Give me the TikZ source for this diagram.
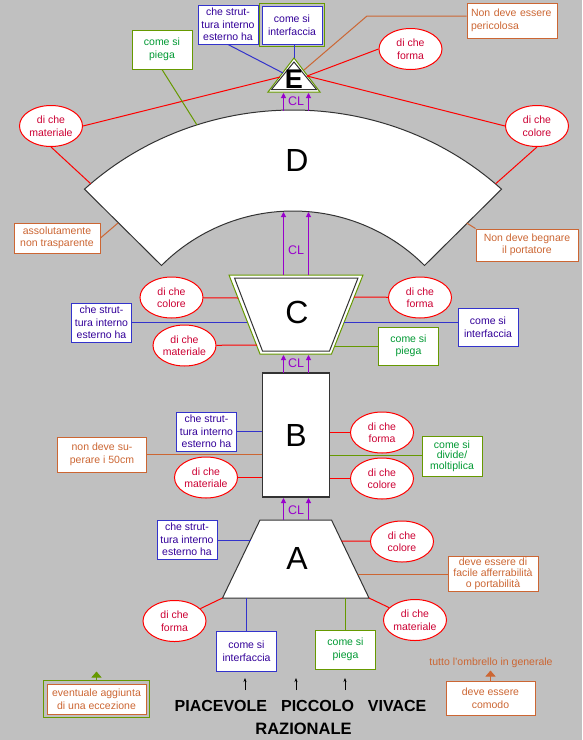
\documentclass[tikz,border=0pt]{standalone}
\usepackage{fontspec}
\setmainfont{Liberation Sans}
\usetikzlibrary{arrows.meta,shapes.geometric,calc}
\definecolor{bgc}{HTML}{C0C0C0}
\definecolor{redc}{HTML}{FF0000}
\definecolor{redt}{HTML}{CC0033}
\definecolor{bluec}{HTML}{3333CC}
\definecolor{bluet}{HTML}{330099}
\definecolor{grnc}{HTML}{669900}
\definecolor{grnt}{HTML}{009933}
\definecolor{orc}{HTML}{CC6633}
\definecolor{clc}{HTML}{9900CC}
\definecolor{shp}{HTML}{333333}
\newcommand{\fs}{\fontsize{10.5}{12.5}\selectfont}
\tikzset{
  el/.style={ellipse,draw=redc,fill=white,text=redt,line width=1pt,minimum width=63pt,minimum height=41pt,inner sep=0pt,align=center,font=\fs},
  bb/.style={rectangle,draw=bluec,fill=white,text=bluet,line width=1pt,minimum width=60pt,minimum height=39pt,inner sep=0pt,align=center,font=\fs},
  gb/.style={bb,draw=grnc,text=grnt},
  ob/.style={bb,draw=orc,text=orc,minimum width=89pt,minimum height=35pt},
  rl/.style={redc,line width=1pt},
  bl/.style={bluec,line width=1pt},
  gl/.style={grnc,line width=1pt},
  ol/.style={orc,line width=1pt},
  cl/.style={-{Triangle[length=5pt,width=5pt]},clc,line width=1pt},
  ba/.style={-{Stealth[length=4pt,width=3pt]},black,line width=0.8pt},
  mk/.style={-{Triangle[length=6pt,width=10pt]},line width=1pt},
  big/.style={font=\fontsize{32}{32}\selectfont,inner sep=0pt}
}
\begin{document}
\begin{tikzpicture}[x=1pt,y=-1pt]
\useasboundingbox (0,0) rectangle (582,740); \fill[bgc] (0,0) rectangle (582,740);
\filldraw[fill=white,draw=shp,line width=1pt] plot[domain=226.4:313.6,samples=60] ({293+302.4*cos(\x)},{397+287*sin(\x)}) -- plot[domain=315:225,samples=60] ({293+186*cos(\x)},{397+186*sin(\x)}) -- cycle;
\node[big] (D) at (297,160) {D};
\filldraw[fill=white,draw=grnc,line width=1pt] (229,275) -- (363,275) -- (331.5,354) -- (260,354) -- cycle;
\draw[shp,line width=1pt] (234.5,278) -- (358,278) -- (329.5,351) -- (262.5,351) -- cycle;
\node[big] (C) at (297,312) {C};
\node[big,draw=shp,line width=1.2pt,fill=white,minimum width=67pt,minimum height=124pt] (B) at (296,435) {B};
\filldraw[fill=white,draw=shp,line width=1pt] (260,520) -- (331.5,520) -- (369,598) -- (222.5,598) -- cycle;
\node[big] (A) at (297,558) {A};
\filldraw[fill=white,draw=grnc,line width=1pt] (294,58) -- (320,92) -- (268,92) -- cycle;
\draw[shp,line width=1pt] (294,62) -- (316.5,89.5) -- (271.5,89.5) -- cycle;
\node[font=\fontsize{27}{27}\selectfont\bfseries,inner sep=0pt] (E) at (294,79) {E};

\coordinate (eT) at (294,58); \coordinate (eB) at (283,73); \coordinate (eO) at (304,70); \coordinate (eL) at (280,77); \coordinate (eR) at (307,76);
\coordinate (pk) at (367,16);
\coordinate (dL) at (90.7,183.7); \coordinate (dR) at (495.7,183.7); \coordinate (dP) at (197,125); \coordinate (dA) at (118,223); \coordinate (dN) at (466.7,223);
\coordinate (c1) at (238,298); \coordinate (c2) at (247,322); \coordinate (c3) at (257,345); \coordinate (c4) at (354,297); \coordinate (c5) at (344,322); \coordinate (c6) at (335,346);
\coordinate (a1) at (250.5,540); \coordinate (a2) at (341.5,541); \coordinate (a3) at (358,574); \coordinate (a4) at (222.5,598); \coordinate (a5) at (369,598); \coordinate (a6) at (246.5,598); \coordinate (a7) at (345.5,598);

\node[bb] (sE) at (228,24.5) {che strut-\\tura interno\\esterno ha};
\node[bb,minimum height=38pt] (iE) at (292,25) {come si\\interfaccia};
\draw[gl] ([shift={(-2pt,-2pt)}]iE.south west) rectangle ([shift={(2pt,2pt)}]iE.north east);
\node[gb] (pgE) at (162,49.5) {come si\\piega};
\node[ob,minimum width=90pt,text width=82pt,inner xsep=4pt,align=left] (pE) at (512,20.5) {Non deve essere\\pericolosa};
\node[el] (fE) at (410.5,49) {di che\\forma};
\node[el] (mE) at (51,126) {di che\\materiale};
\node[el] (kE) at (537,126) {di che\\colore};
\node[ob,minimum width=86pt,minimum height=30pt] (aD) at (57,238) {assolutamente\\non trasparente};
\node[ob,minimum width=102pt,minimum height=32pt] (nD) at (527,245) {Non deve begnare\\il portatore};
\draw[bl] (sE.south) -- (eB); \draw[bl] (eT) -- (eT|-iE.south);
\draw[ol] (pE.west|-pk) -- (pk) -- (eO);
\draw[rl] (mE.east) -- (eL); \draw[rl] (fE.west) -- (eR); \draw[rl] (kE.west) -- (eR);
\draw[rl] (mE.south) -- (dL); \draw[rl] (kE.south) -- (dR); \draw[gl] (pgE.south) -- (dP);
\draw[ol] (aD.east) -- (dA); \draw[ol] (nD.north west) -- (dN);

\node[el] (kC) at (171.5,297.5) {di che\\colore};
\node[el] (fC) at (420,297.5) {di che\\forma};
\node[el] (mC) at (184.5,345.5) {di che\\materiale};
\node[bb] (sC) at (101.5,322.5) {che strut-\\tura interno\\esterno ha};
\node[bb,minimum height=38pt] (iC) at (488,327) {come si\\interfaccia};
\node[gb,minimum height=38pt] (pgC) at (408.5,346) {come si\\piega};
\draw[rl] (kC) -- (c1); \draw[rl] (mC) -- (c3); \draw[rl] (fC) -- (c4);
\draw[bl] (sC.east|-c2) -- (c2); \draw[bl] (c5) -- (c5-|iC.west); \draw[gl] (c6) -- (pgC);

\node[bb] (sB) at (206.5,431.5) {che strut-\\tura interno\\esterno ha};
\node[ob] (nB) at (102,454.5) {non deve su-\\perare i 50cm};
\node[el] (mB) at (206,477.5) {di che\\materiale};
\node[el] (fB) at (382,432.5) {di che\\forma};
\node[gb,minimum height=40pt,font=\fontsize{10.5}{10.5}\selectfont] (dvB) at (452,456) {come si\\divide/\\moltiplica};
\node[el] (kB) at (382,478.5) {di che\\colore};
\draw[bl] (sB) -- (sB-|B.west); \draw[ol] (nB) -- (nB-|B.west); \draw[rl] (mB) -- (mB-|B.west);
\draw[rl] (fB) -- (fB-|B.east); \draw[gl] (dvB.west|-0,455) -- (B.east|-0,455); \draw[rl] (kB) -- (kB-|B.east);

\node[bb] (sA) at (187,539.5) {che strut-\\tura interno\\esterno ha};
\node[el] (kA) at (402,541.5) {di che\\colore};
\node[ob,minimum width=90pt,font=\fontsize{10.5}{11}\selectfont] (fcA) at (493,573.5) {deve essere di\\facile afferrabilità\\o portabilità};
\node[el] (fA) at (174.5,621) {di che\\forma};
\node[el] (mA) at (415,620) {di che\\materiale};
\node[bb,minimum height=40pt] (iA) at (246.5,651) {come si\\interfaccia};
\node[gb] (pgA) at (345.5,649.5) {come si\\piega};
\draw[bl] (sA.east|-a1) -- (a1); \draw[rl] (a2) -- (kA); \draw[ol] (a3) -- (fcA.west|-a3);
\draw[rl] (a4) -- (fA); \draw[rl] (a5) -- (mA);
\draw[bl] (a6) -- (a6|-iA.north); \draw[gl] (a7) -- (a7|-pgA.north);

\foreach \n/\a/\b/\m in {e/110.5/93/101,d/275/212/250,c/373/355/363,b/520/498/510}{
  \coordinate (\n l) at (283.5,\a); \coordinate (\n r) at (308.5,\a);
  \draw[cl] (\n l) -- ++(0,\b-\a); \draw[cl] (\n r) -- ++(0,\b-\a);
  \node[text=clc,font=\fontsize{12.5}{12.5}\selectfont,inner sep=0pt] (cl\n) at (296,\m) {CL};
}

\node[ob,minimum width=99pt,minimum height=30pt] (evB) at (96.5,699) {eventuale aggiunta\\di una eccezione};
\draw[gl] ([shift={(-3pt,-3pt)}]evB.south west) rectangle ([shift={(3pt,3pt)}]evB.north east);
\draw[mk,grnc] ([yshift=3pt]evB.north) -- ++(0,-9);
\node[ob,minimum width=89pt,minimum height=34pt] (cmB) at (490.5,698) {deve essere\\comodo};
\draw[mk,orc] (cmB.north) -- ++(0,-10);
\node[text=orc,font=\fs,inner sep=0pt] (tuT) at (491,663) {tutto l'ombrello in generale};
\node[font=\fontsize{16}{16}\selectfont\bfseries,inner sep=0pt] (wT) at (300.5,706) {PIACEVOLE\hspace{14pt}PICCOLO\hspace{14pt}VIVACE};
\node[font=\fontsize{16.5}{16.5}\selectfont\bfseries,inner sep=0pt] (rT) at (303.5,729) {RAZIONALE};
\foreach \x in {245,296,345}{\coordinate (u\x) at (\x,690); \draw[ba] (u\x) -- ++(0,-12);}
\end{tikzpicture}
\end{document}
